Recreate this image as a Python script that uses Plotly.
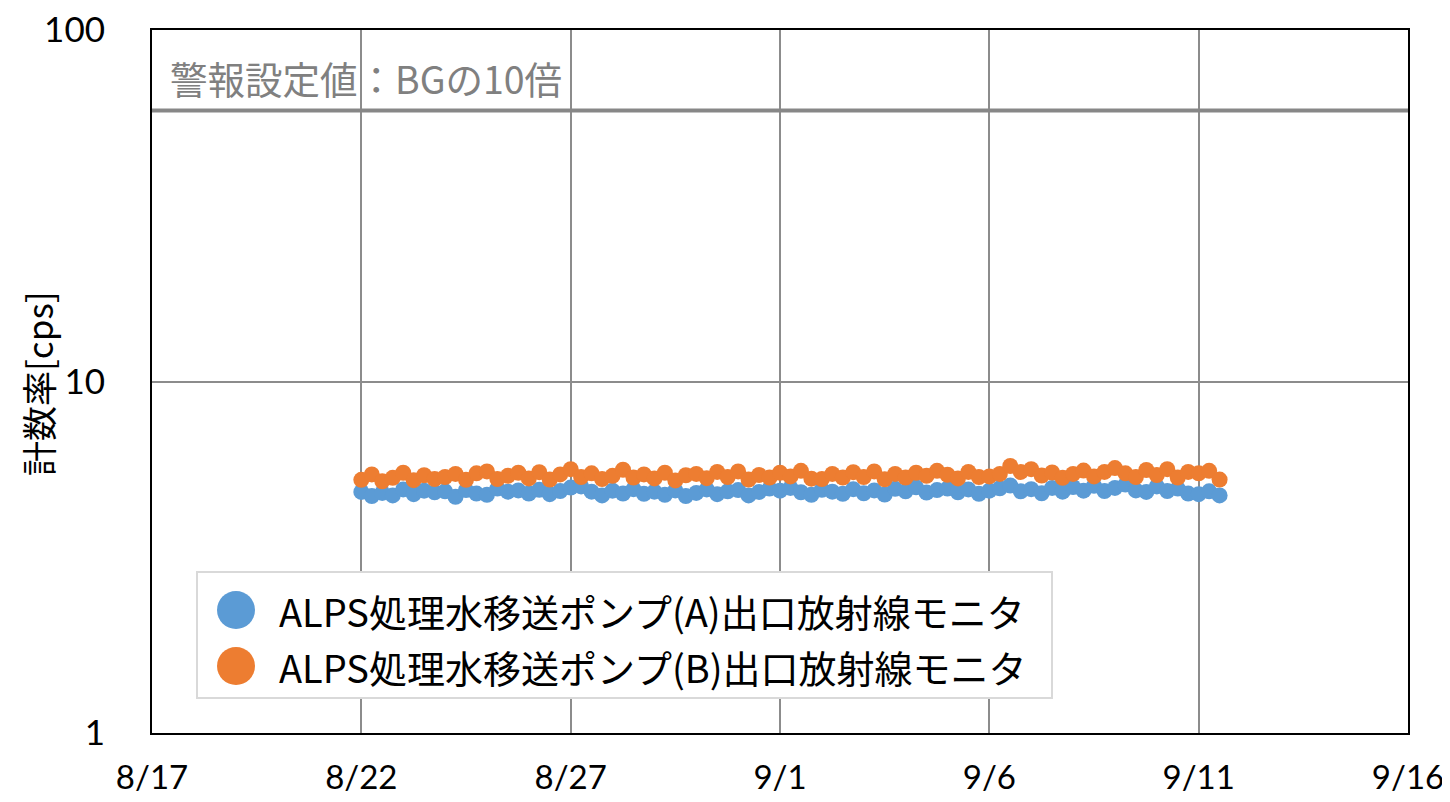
import plotly.graph_objects as go
import pandas as pd

# ---- data ----
start = "2023-08-22 00:00"
n_points = 83
times = pd.date_range(start, periods=n_points, freq="6h")

pump_a = [4.85, 4.72, 4.82, 4.74, 4.93, 4.78, 4.89, 4.84, 4.87, 4.70, 4.91, 4.80,
          4.76, 4.96, 4.86, 4.90, 4.80, 4.92, 4.78, 4.88, 4.99, 5.03, 4.86, 4.74,
          4.89, 4.80, 4.94, 4.79, 4.86, 4.76, 4.90, 4.72, 4.82, 4.93, 4.78, 4.87,
          4.91, 4.74, 4.85, 4.96, 4.89, 4.98, 4.84, 4.76, 4.92, 4.86, 4.79, 4.94,
          4.81, 4.90, 4.77, 4.95, 4.87, 5.00, 4.83, 4.91, 4.96, 4.84, 4.93, 4.79,
          4.89, 4.97, 5.06, 4.87, 4.94, 4.81, 4.98, 4.86, 5.01, 4.89, 5.05, 4.88,
          4.98, 5.09, 4.90, 4.85, 5.03, 4.88, 4.96, 4.80, 4.78, 4.87, 4.74]
pump_b = [5.25, 5.44, 5.20, 5.32, 5.50, 5.24, 5.41, 5.28, 5.35, 5.46, 5.25, 5.48,
          5.55, 5.28, 5.39, 5.50, 5.30, 5.52, 5.26, 5.44, 5.63, 5.35, 5.48, 5.28,
          5.39, 5.61, 5.33, 5.44, 5.30, 5.50, 5.23, 5.41, 5.46, 5.31, 5.53, 5.35,
          5.55, 5.26, 5.42, 5.33, 5.50, 5.37, 5.57, 5.29, 5.28, 5.46, 5.33, 5.52,
          5.35, 5.55, 5.27, 5.46, 5.33, 5.50, 5.39, 5.57, 5.43, 5.30, 5.53, 5.35,
          5.37, 5.46, 5.75, 5.53, 5.63, 5.40, 5.51, 5.32, 5.46, 5.58, 5.37, 5.53,
          5.67, 5.48, 5.35, 5.60, 5.42, 5.63, 5.33, 5.53, 5.48, 5.57, 5.26]

threshold = 59
x_range = ["2023-08-17", "2023-09-16"]
x_tickvals = ["2023-08-17", "2023-08-22", "2023-08-27", "2023-09-01",
              "2023-09-06", "2023-09-11", "2023-09-16"]
x_ticktext = ["8/17", "8/22", "8/27", "9/1", "9/6", "9/11", "9/16"]
y_tickvals = [1, 10, 100]
y_ticktext = ["1", "10", "100"]

name_a = "ALPS処理水移送ポンプ(A)出口放射線モニタ"
name_b = "ALPS処理水移送ポンプ(B)出口放射線モニタ"
threshold_label = "警報設定値：BGの10倍"
y_title = "計数率[cps]"

color_a = "#5b9bd5"
color_b = "#ed7d31"
FONT = "Noto Sans CJK JP"
TICK_FONT = "Lato"

fig = go.Figure()
fig.add_trace(go.Scatter(x=x_range, y=[threshold, threshold], mode="lines",
                         line=dict(color="#878787", width=4), showlegend=False,
                         hoverinfo="skip"))
fig.add_trace(go.Scatter(x=times, y=pump_a, mode="markers", name=name_a,
                         marker=dict(color=color_a, size=16), showlegend=False))
fig.add_trace(go.Scatter(x=times, y=pump_b, mode="markers", name=name_b,
                         marker=dict(color=color_b, size=16), showlegend=False))

# page offset (body margin of the html page)
OFF = 8
L, R, T, B = 152, 1408, 30, 733
W, H = 1450 - OFF, 802 - OFF
pw, ph = R - L, B - T


def px(xp):
    return (xp - L) / pw


def py(yp):
    return (B - yp) / ph


# custom legend (large markers)
fig.add_shape(type="rect", xref="paper", yref="paper",
              x0=px(197), x1=px(1052), y0=py(698), y1=py(572),
              line=dict(color="#d9d9d9", width=2), fillcolor="white", layer="above")
for cy, col, nm in [(610, color_a, name_a), (666, color_b, name_b)]:
    fig.add_shape(type="circle", xref="paper", yref="paper",
                  x0=px(217), x1=px(255), y0=py(cy + 19), y1=py(cy - 19),
                  line=dict(color=col, width=0), fillcolor=col, layer="above")
    fig.add_annotation(xref="paper", yref="paper", x=px(277), y=py(cy),
                       xanchor="left", yanchor="middle", text=nm, showarrow=False,
                       font=dict(family=FONT, size=38, color="black"))

fig.add_annotation(xref="paper", yref="paper", x=px(168), y=py(78),
                   xanchor="left", yanchor="middle", text=threshold_label,
                   showarrow=False, font=dict(family=FONT, size=37.5, color="#808080"))

# y-axis title
fig.add_annotation(xref="paper", yref="paper", x=px(37), y=py(384),
                   xanchor="center", yanchor="middle", text=y_title, textangle=-90,
                   showarrow=False, borderpad=0,
                   font=dict(family=FONT, size=35, color="black"))

fig.update_layout(
    width=W, height=H,
    margin=dict(l=L - OFF, r=W - (R - OFF), t=T - OFF, b=H - (B - OFF), autoexpand=False),
    plot_bgcolor="white", paper_bgcolor="white",
    font=dict(family=FONT, size=30, color="black"),
    showlegend=False,
)
fig.update_xaxes(type="date", range=x_range, tickvals=x_tickvals, ticktext=x_ticktext,
                 showgrid=True, gridcolor="#8c8c8c", gridwidth=2,
                 showline=True, mirror=True, linecolor="black", linewidth=2,
                 ticks="", ticklabelstandoff=14, zeroline=False, automargin=False,
                 ticklabeloverflow="allow",
                 tickfont=dict(family=TICK_FONT, size=33, color="black"))
fig.update_yaxes(type="log", range=[0, 2], tickvals=y_tickvals, ticktext=y_ticktext,
                 showgrid=True, gridcolor="#8c8c8c", gridwidth=2,
                 showline=True, mirror=True, linecolor="black", linewidth=2,
                 ticks="", ticklabelstandoff=38, zeroline=False, automargin=False,
                 ticklabeloverflow="allow",
                 tickfont=dict(family=TICK_FONT, size=35, color="black"))

fig.write_html("out.html")
